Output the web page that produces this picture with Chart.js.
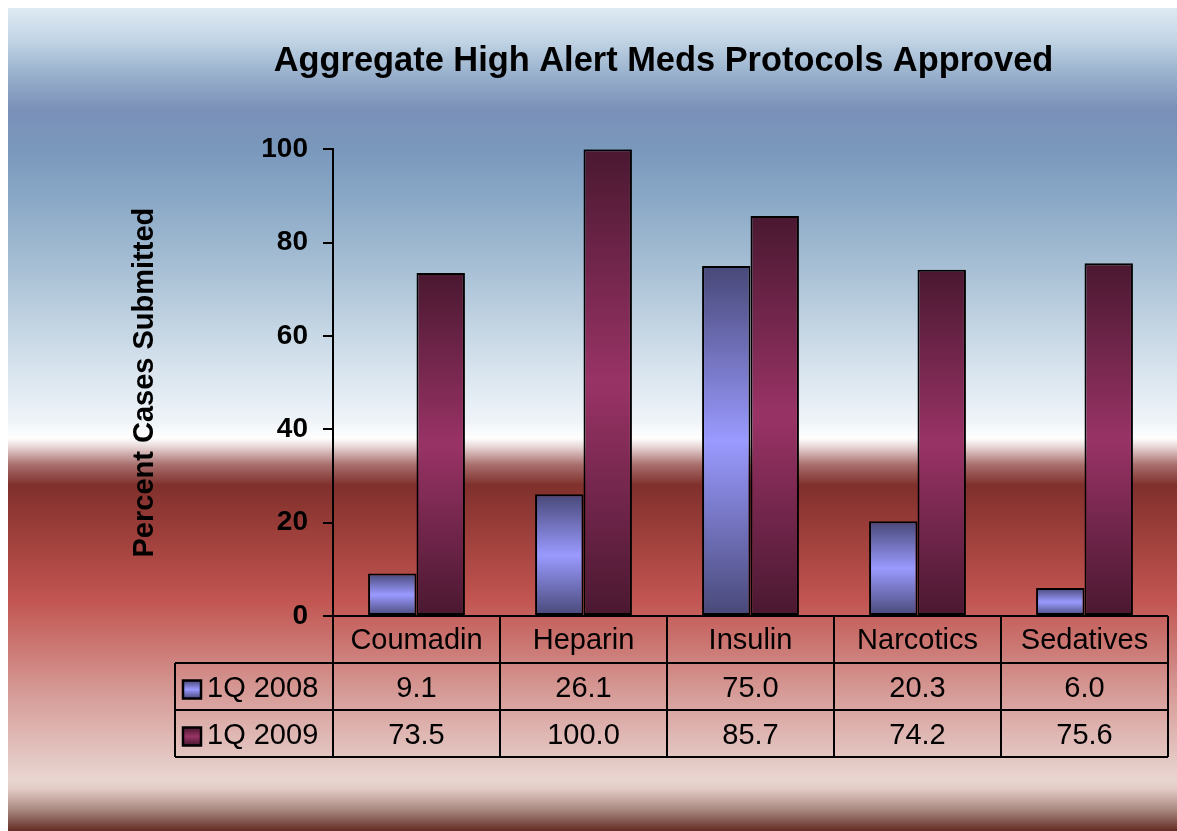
<!DOCTYPE html>
<html>
<head>
<meta charset="utf-8">
<title>Aggregate High Alert Meds Protocols Approved</title>
<script src="https://cdn.jsdelivr.net/npm/chart.js@4.4.1/dist/chart.umd.min.js"></script>
<style>
  html, body { margin: 0; padding: 0; background: #fff; overflow: hidden; }
  #wrap { position: relative; width: 1177px; height: 831px; }
</style>
</head>
<body>
<div id="wrap"><canvas id="chart"></canvas></div>
<script>
// data
const categories = ['Coumadin', 'Heparin', 'Insulin', 'Narcotics', 'Sedatives'];
const seriesNames = ['1Q 2008', '1Q 2009'];
const q2008 = [9.1, 26.1, 75.0, 20.3, 6.0];
const q2009 = [73.5, 100.0, 85.7, 74.2, 75.6];
const yTicks = [0, 20, 40, 60, 80, 100];

const FONT = "'Liberation Sans', Arial, Helvetica, sans-serif";

// vertical "cylinder" shading, dark at both ends of each bar
function barFill(dark, light) {
  return (ctx) => {
    const chart = ctx.chart;
    const y = chart.scales.y;
    if (ctx.type !== 'data' || !y || ctx.raw == null) return light;
    const top = y.getPixelForValue(ctx.raw);
    const base = y.getPixelForValue(0);
    if (!isFinite(top) || !isFinite(base) || Math.abs(base - top) < 1) return light;
    const g = chart.ctx.createLinearGradient(0, top, 0, base);
    g.addColorStop(0, dark);
    g.addColorStop(0.5, light);
    g.addColorStop(1, dark);
    return g;
  };
}

const palette = [
  { dark: '#484878', light: '#9a9aff' },
  { dark: '#4a1830', light: '#993366' }
];

// page background gradient (blue sky over red band)
const backdrop = {
  id: 'backdrop',
  beforeDraw(chart) {
    const c = chart.ctx;
    const x0 = 8, y0 = 8, x1 = chart.width, y1 = chart.height;
    const g = c.createLinearGradient(0, y0, 0, y1);
    const stops = [
      [8, '#dfeaf4'], [40, '#c2d5e5'], [75, '#98b0cc'], [110, '#7a90b8'],
      [150, '#7a98bc'], [200, '#8aa8c6'], [270, '#a8c0d5'], [370, '#d8e4ee'],
      [420, '#eef3f8'], [438, '#ffffff'], [446, '#eadada'], [465, '#a86e6c'],
      [485, '#80302c'], [535, '#9e3f3b'], [600, '#c25551'], [650, '#cc7a76'],
      [700, '#d8a09c'], [740, '#e0bab6'], [780, '#e9d6d1'], [790, '#e0c8c2'],
      [810, '#a88880'], [831, '#642c24']
    ];
    stops.forEach(([y, col]) => g.addColorStop((y - y0) / (y1 - y0), col));
    c.save();
    c.fillStyle = g;
    c.fillRect(x0, y0, x1 - x0, y1 - y0);
    c.restore();
  }
};

// data table under the plot
const dataTable = {
  id: 'dataTable',
  afterDraw(chart) {
    const c = chart.ctx;
    const area = chart.chartArea;
    const xs = chart.scales.x;
    const base = chart.scales.y.getPixelForValue(0);
    const rowH = 47;
    const legendLeft = 175;
    const colW = (area.right - area.left) / categories.length;
    const rows = [q2008, q2009];
    const bottom = base + rowH * (rows.length + 1);

    c.save();
    c.strokeStyle = '#000';
    c.lineWidth = 2;
    c.beginPath();
    // horizontal lines
    c.moveTo(area.left, base); c.lineTo(area.right, base);
    for (let r = 1; r <= rows.length + 1; r++) {
      const y = base + rowH * r;
      c.moveTo(legendLeft, y); c.lineTo(area.right, y);
    }
    // vertical lines
    for (let i = 0; i <= categories.length; i++) {
      const x = area.left + colW * i;
      c.moveTo(x, base); c.lineTo(x, bottom);
    }
    c.moveTo(legendLeft, base + rowH); c.lineTo(legendLeft, bottom);
    c.stroke();

    c.fillStyle = '#000';
    c.font = '29px ' + FONT;
    c.textAlign = 'center';
    c.textBaseline = 'middle';
    categories.forEach((cat, i) => {
      c.fillText(cat, xs.getPixelForValue(i), base + rowH / 2 + 1);
    });
    rows.forEach((vals, r) => {
      const cy = base + rowH * (r + 1) + rowH / 2 + 2;
      vals.forEach((v, i) => {
        c.fillText(v.toFixed(1), xs.getPixelForValue(i), cy);
      });
    });

    // legend keys and series names
    rows.forEach((vals, r) => {
      const cy = base + rowH * (r + 1) + rowH / 2 + 3;
      const kx = 183, ks = 18, ky = cy - ks / 2;
      const g = c.createLinearGradient(0, ky, 0, ky + ks);
      g.addColorStop(0, palette[r].dark);
      g.addColorStop(0.5, palette[r].light);
      g.addColorStop(1, palette[r].dark);
      c.fillStyle = g;
      c.fillRect(kx, ky, ks, ks);
      c.lineWidth = 2.5;
      c.strokeStyle = '#000';
      c.strokeRect(kx, ky, ks, ks);
      c.fillStyle = '#000';
      c.textAlign = 'left';
      c.fillText(seriesNames[r], 207, cy - 1);
    });
    c.restore();
  }
};

new Chart(document.getElementById('chart'), {
  type: 'bar',
  data: {
    labels: categories,
    datasets: [
      {
        label: seriesNames[0],
        data: q2008,
        backgroundColor: barFill(palette[0].dark, palette[0].light),
        borderColor: '#000',
        borderWidth: 2,
        borderSkipped: false
      },
      {
        label: seriesNames[1],
        data: q2009,
        backgroundColor: barFill(palette[1].dark, palette[1].light),
        borderColor: '#000',
        borderWidth: 2,
        borderSkipped: false
      }
    ]
  },
  options: {
    responsive: true,
    maintainAspectRatio: false,
    animation: false,
    devicePixelRatio: 1,
    datasets: {
      bar: { categoryPercentage: 0.58, barPercentage: 1.0 }
    },
    layout: {
      padding: { left: 159, right: 9, top: 0, bottom: 215 }
    },
    plugins: {
      legend: { display: false },
      tooltip: { enabled: false },
      title: {
        display: true,
        text: 'Aggregate High Alert Meds Protocols Approved',
        color: '#000',
        font: { family: FONT, size: 34.4, weight: 'bold' },
        padding: { top: 41, bottom: 67 }
      }
    },
    scales: {
      x: {
        display: false
      },
      y: {
        min: 0,
        max: 100,
        afterFit(scale) { scale.width = 174; },
        afterBuildTicks(scale) { scale.ticks = yTicks.map(v => ({ value: v })); },
        ticks: {
          color: '#000',
          padding: 15,
          font: { family: FONT, size: 28, weight: 'bold' }
        },
        grid: {
          drawOnChartArea: false,
          drawTicks: true,
          tickLength: 10,
          color: '#000',
          lineWidth: 2
        },
        border: { display: true, color: '#000', width: 2 },
        title: {
          display: true,
          text: 'Percent Cases Submitted',
          color: '#000',
          font: { family: FONT, size: 29, weight: 'bold' },
          padding: { top: -31, bottom: 0 }
        }
      }
    }
  },
  plugins: [backdrop, dataTable]
});
</script>
</body>
</html>
